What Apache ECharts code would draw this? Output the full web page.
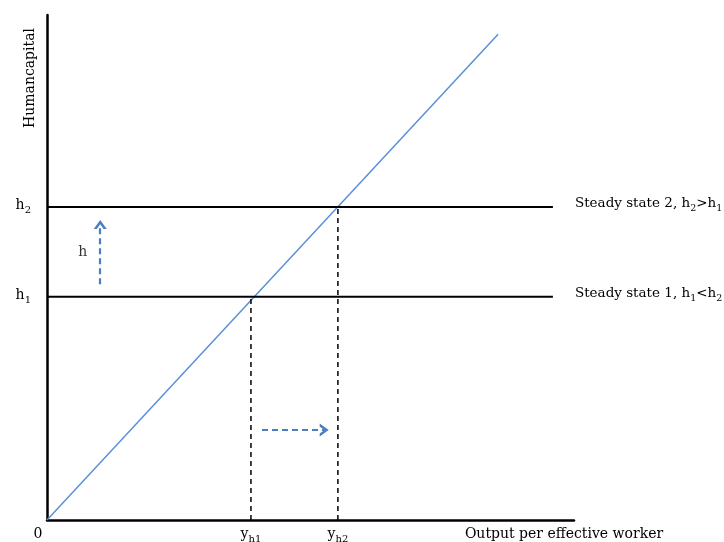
<!DOCTYPE html>
<html>
<head>
<meta charset="utf-8">
<script src="https://cdn.jsdelivr.net/npm/echarts@6/dist/echarts.min.js"></script>
<style>
  html, body { margin: 0; padding: 0; background: #fff; }
  #chart { width: 724px; height: 542px; }
</style>
</head>
<body>
<div id="chart"></div>
<script>
// axis ranges (arbitrary units)
const xMax = 100;
const yMax = 100;

// relation line through origin
const growthLine = [[0, 0], [85.6, 96.2]];
// steady state human capital levels h1, h2
const steadyLevels = [44.2, 62.0];
const steadyEnd = 96;
const steadyNames = [
  "{t|Steady state 1, h}{s|1}{t|<h}{s|2}",
  "{t|Steady state 2, h}{s|2}{t|>h}{s|1}",
];
const steadyTicks = ["{t|h}{s|1}", "{t|h}{s|2}"];
// output levels y_h1, y_h2
const outputLevels = [38.7, 55.2];
const outputTicks = ["{t|y}{s|h1}", "{t|y}{s|h2}"];
// shift arrows
const arrowUp = [[10.1, 46.7], [10.1, 58.5]];
const arrowRight = [[40.8, 17.8], [52.6, 17.8]];
const hLabelPos = [6.8, 52.9];

const FONT = "DejaVu Serif";
const FS = 14;
const BLUE_LINE = "#5b8fd8";
const BLUE_ARROW = "#4a7ebf";
const chevron = "path://M0,10 L5,0 L10,10 L7.6,10 L5,4.6 L2.4,10 Z";

// main text + lowered subscript
function subRich(fs) {
  return {
    t: { fontFamily: FONT, fontSize: fs, lineHeight: fs + 3, verticalAlign: "top", color: "#000" },
    s: { fontFamily: FONT, fontSize: fs - 4, lineHeight: fs + 3, verticalAlign: "bottom", color: "#000" },
    z: { fontFamily: FONT, fontSize: fs, padding: [0, 18, 0, 0], color: "#000" },
  };
}

var chartDom = document.getElementById("chart");
var myChart = echarts.init(chartDom);

let series = [];

series.push({
  name: "growth",
  type: "line",
  data: growthLine,
  symbol: "none",
  lineStyle: { color: BLUE_LINE, width: 1.5 },
  z: 3,
});

steadyLevels.forEach((h, i) => {
  series.push({
    name: "ss" + (i + 1),
    type: "line",
    data: [[0, h], [steadyEnd, h]],
    symbol: "none",
    lineStyle: { color: "#000", width: 2 },
    endLabel: {
      show: true,
      formatter: steadyNames[i],
      distance: 22,
      offset: [0, -2],
      rich: subRich(13.5),
    },
  });
  series.push({
    name: "drop" + (i + 1),
    type: "line",
    data: [[outputLevels[i], 0], [outputLevels[i], h]],
    symbol: "none",
    lineStyle: { color: "#000", width: 1.5, type: [5, 4] },
  });
});

// arrows drawn as markLines on an empty series
series.push({
  name: "arrows",
  type: "line",
  data: [],
  markLine: {
    silent: true,
    symbol: ["none", chevron],
    symbolSize: [13, 9],
    label: { show: false },
    lineStyle: { color: BLUE_ARROW, width: 2.2, type: [6, 4] },
    data: [
      [{ coord: arrowUp[0] }, { coord: arrowUp[1] }],
      [{ coord: arrowRight[0] }, { coord: arrowRight[1] }],
    ],
  },
});

series.push({
  name: "hlabel",
  type: "scatter",
  data: [hLabelPos],
  symbolSize: 0,
  label: {
    show: true,
    formatter: "h",
    position: "inside",
    color: "#000",
    fontFamily: FONT,
    fontSize: FS,
  },
});

let option = {
  animation: false,
  grid: { left: 47, right: 150, top: 15, bottom: 22, outerBoundsMode: "none" },
  xAxis: {
    type: "value",
    min: 0,
    max: xMax,
    splitLine: { show: false },
    axisTick: { show: false },
    axisLine: { lineStyle: { color: "#000", width: 2.5 } },
    axisLabel: {
      customValues: [0, outputLevels[0], outputLevels[1]],
      margin: 7,
      formatter: function (v) {
        if (v === 0) return "{z|0}";
        return v === outputLevels[0] ? outputTicks[0] : outputTicks[1];
      },
      rich: subRich(FS),
    },
    name: "Output per effective worker",
    nameLocation: "end",
    nameGap: -10,
    nameTextStyle: {
      color: "#000",
      fontFamily: FONT,
      fontSize: FS,
      align: "center",
      verticalAlign: "top",
      padding: [7, 0, 0, 0],
    },
  },
  yAxis: {
    type: "value",
    min: 0,
    max: yMax,
    splitLine: { show: false },
    axisTick: { show: false },
    axisLine: { lineStyle: { color: "#000", width: 2.5 } },
    axisLabel: {
      customValues: steadyLevels,
      margin: 16,
      formatter: function (v) {
        return v === steadyLevels[0] ? steadyTicks[0] : steadyTicks[1];
      },
      rich: subRich(FS),
    },
    name: "Humancapital",
    nameLocation: "end",
    nameRotate: 90,
    nameGap: -63,
    nameTextStyle: {
      color: "#000",
      fontFamily: FONT,
      fontSize: FS,
      align: "center",
      verticalAlign: "bottom",
      padding: [0, 0, 10, 0],
    },
  },
  series: series,
};

option && myChart.setOption(option);
</script>
</body>
</html>
